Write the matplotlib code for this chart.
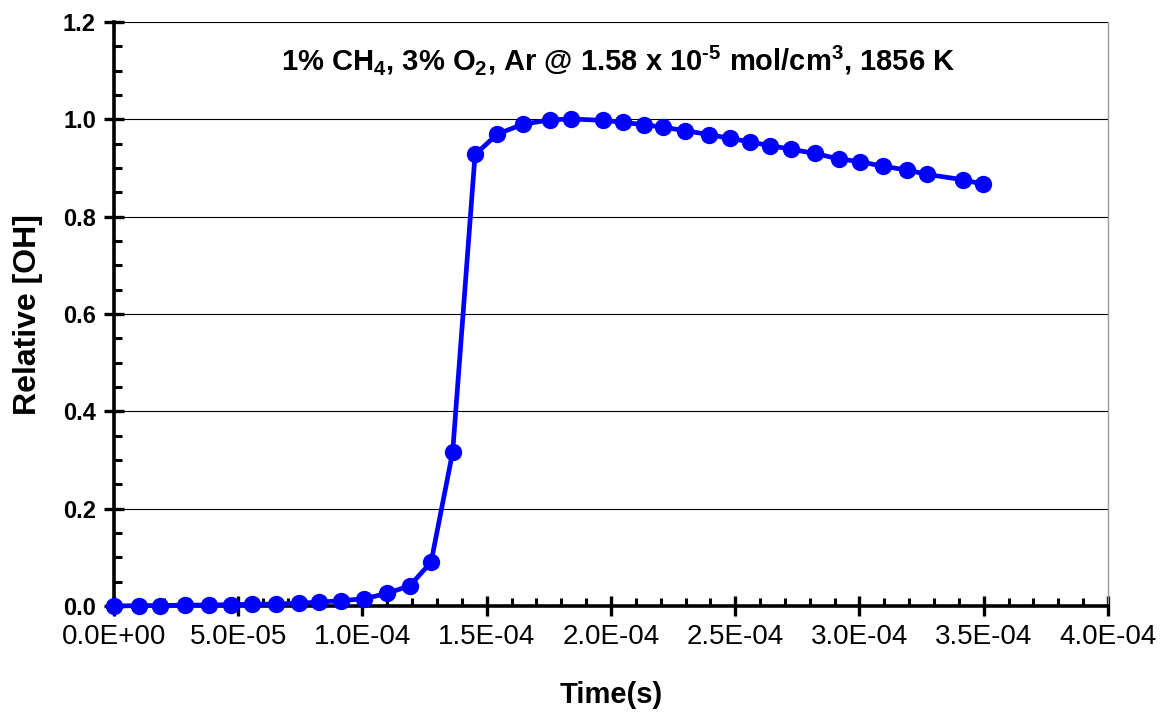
import matplotlib.pyplot as plt
from matplotlib.ticker import MultipleLocator, FormatStrFormatter, FuncFormatter

plt.rcParams['font.family'] = ['Liberation Sans', 'DejaVu Sans']
plt.rcParams['mathtext.fontset'] = 'custom'
plt.rcParams['mathtext.bf'] = 'Liberation Sans:bold'
plt.rcParams['mathtext.rm'] = 'Liberation Sans:bold'

# time (s) and relative OH
time_s = [0.0, 1.02e-5, 1.85e-5, 2.86e-5, 3.83e-5, 4.70e-5, 5.54e-5, 6.52e-5,
          7.43e-5, 8.26e-5, 9.12e-5, 1.006e-4, 1.100e-4, 1.191e-4, 1.276e-4,
          1.363e-4, 1.453e-4, 1.543e-4, 1.645e-4, 1.753e-4, 1.839e-4, 1.969e-4,
          2.050e-4, 2.134e-4, 2.211e-4, 2.297e-4, 2.394e-4, 2.479e-4, 2.558e-4,
          2.640e-4, 2.723e-4, 2.820e-4, 2.917e-4, 3.004e-4, 3.093e-4, 3.192e-4,
          3.273e-4, 3.417e-4, 3.496e-4]
rel_oh = [0.0, 0.001, 0.001, 0.002, 0.002, 0.003, 0.0035, 0.004,
          0.006, 0.008, 0.011, 0.015, 0.026, 0.042, 0.090,
          0.317, 0.928, 0.970, 0.990, 0.999, 1.001, 0.998,
          0.994, 0.989, 0.984, 0.977, 0.969, 0.961, 0.954,
          0.946, 0.939, 0.930, 0.919, 0.913, 0.904, 0.896,
          0.887, 0.876, 0.867]

title = (r'1% CH$_\mathbf{4}$, 3% O$_\mathbf{2}$, Ar @ 1.58 x 10$^\text{-5}$'
         r' mol/cm$^\mathbf{3}$, 1856 K')

fig = plt.figure(figsize=(11.62, 7.13), dpi=100)
ax = fig.add_axes([0.0981, 0.150, 0.8554, 0.819])

ax.plot(time_s, rel_oh, color='#0000ff', lw=3.4, marker='o', ms=12.5,
        markeredgewidth=0, zorder=3, clip_on=False)

ax.set_xlim(0, 4.0e-4)
ax.set_ylim(0, 1.2)
ax.xaxis.set_major_locator(MultipleLocator(5e-5))
ax.xaxis.set_minor_locator(MultipleLocator(1e-5))
ax.yaxis.set_major_locator(MultipleLocator(0.2))
ax.yaxis.set_minor_locator(MultipleLocator(0.05))
ax.xaxis.set_major_formatter(FuncFormatter(lambda v, p: f'{v:.1E}'))
ax.yaxis.set_major_formatter(FormatStrFormatter('%.1f'))

ax.grid(axis='y', which='major', color='black', lw=0.8)
ax.set_axisbelow(True)

for s in ('left', 'bottom'):
    ax.spines[s].set_linewidth(2.6)
ax.spines['top'].set_visible(False)
ax.spines['right'].set_color('#999999')
ax.spines['right'].set_linewidth(1.0)

ax.tick_params(which='major', direction='inout', length=14, width=2.4)
ax.tick_params(which='minor', direction='in', length=6, width=2.2)
ax.tick_params(axis='x', which='major', labelsize=20, pad=6)
ax.tick_params(axis='y', which='major', labelsize=17, pad=6)
for lab in ax.get_yticklabels():
    lab.set_fontweight('bold')

ax.set_xlabel('Time(s)', fontsize=21, fontweight='bold', labelpad=22)
ax.set_ylabel('Relative [OH]', fontsize=23, fontweight='bold', labelpad=14)

ax.text(0.507, 0.935, title, transform=ax.transAxes, ha='center', va='center',
        fontsize=21, fontweight='bold')

fig.savefig('out.png', dpi=100)
